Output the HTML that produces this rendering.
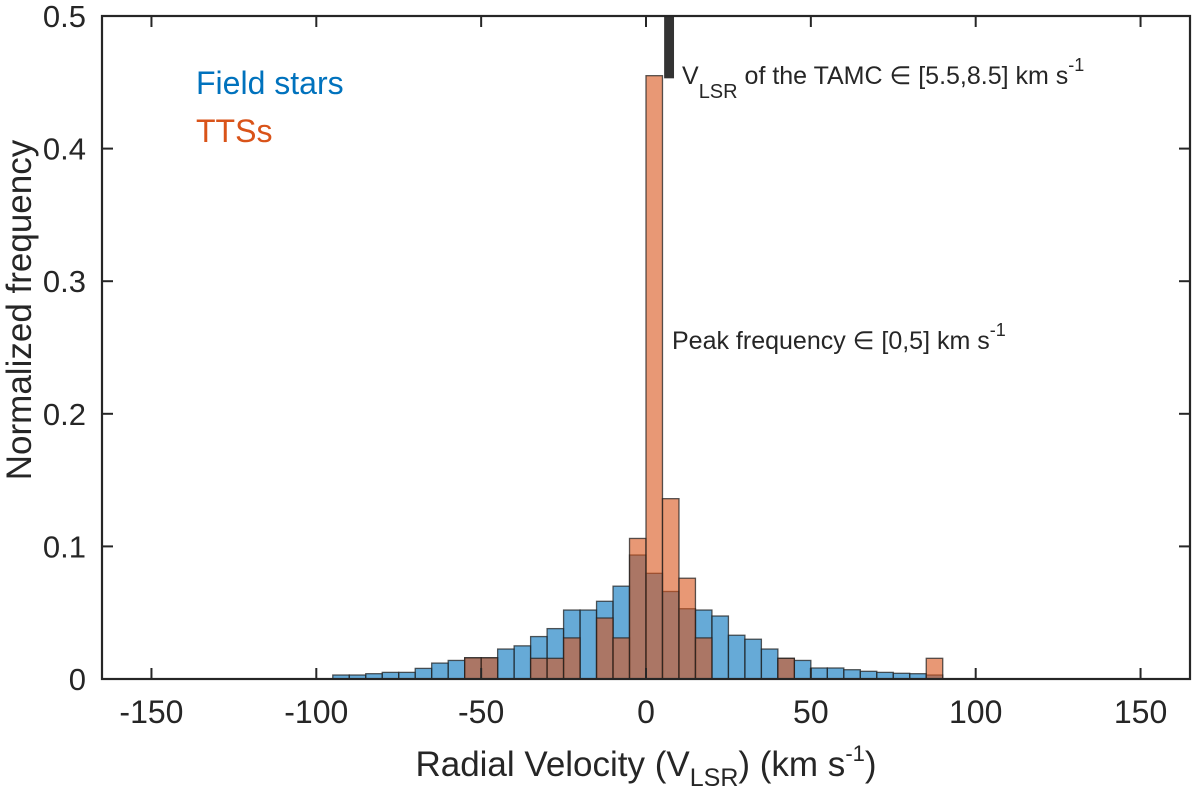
<!DOCTYPE html>
<html><head><meta charset="utf-8"><style>
body{margin:0;background:#fff;}
svg text{font-family:"Liberation Sans",Arial,sans-serif;fill:#262626;}
</style></head><body>
<svg id="chart" width="1200" height="798" xmlns="http://www.w3.org/2000/svg">
<g id="bars"></g>
<g id="axes"></g>
<text transform="translate(31,310) rotate(-90)" text-anchor="middle" font-size="35">Normalized frequency</text>
<text x="646" y="776" text-anchor="middle" font-size="35">Radial Velocity (V<tspan font-size="25" dy="10">LSR</tspan><tspan dy="-10">) (km s</tspan><tspan font-size="22" dy="-15">-1</tspan><tspan dy="15">)</tspan></text>
<text x="196" y="94" font-size="32" style="fill:#0072BD">Field stars</text>
<text x="196" y="142" font-size="32" style="fill:#D95319">TTSs</text>
<text x="682" y="84" font-size="25">V<tspan font-size="20" dy="14">LSR</tspan><tspan dy="-14"> of the TAMC ∈ [5.5,8.5] km s</tspan><tspan font-size="18" dy="-13">-1</tspan></text>
<text x="672" y="349" font-size="25">Peak frequency ∈ [0,5] km s<tspan font-size="18" dy="-13">-1</tspan></text>
</svg>
<script>
const binStarts=[-95,-90,-85,-80,-75,-70,-65,-60,-55,-50,-45,-40,-35,-30,-25,-20,-15,-10,-5,0,5,10,15,20,25,30,35,40,45,50,55,60,65,70,75,80,85];
const fieldStars=[0.003,0.003,0.004,0.005,0.005,0.008,0.012,0.014,0.016,0.016,0.0226,0.025,0.032,0.038,0.052,0.052,0.0586,0.070,0.0935,0.0797,0.066,0.053,0.052,0.0475,0.033,0.030,0.0226,0.0156,0.014,0.0083,0.0083,0.007,0.0058,0.005,0.0043,0.004,0.003];
const ttss=[0,0,0,0,0,0,0,0,0.016,0.016,0,0,0.0156,0.0156,0.031,0,0.046,0.031,0.106,0.455,0.136,0.076,0.031,0,0,0,0,0.0156,0,0,0,0,0,0,0,0,0.0156];
const xTicks=[-150,-100,-50,0,50,100,150];
const yTicks=[0,0.1,0.2,0.3,0.4,0.5];
const yTickLabels=["0","0.1","0.2","0.3","0.4","0.5"];
const binWidth=5;
const vlsrRange=[5.5,8.5];
const L=102,R=1190,T=16,B=679,xmin=-165,xmax=165,ymax=0.5;
const NS='http://www.w3.org/2000/svg';
function X(v){return L+(v-xmin)/(xmax-xmin)*(R-L);}
function Y(v){return B-v/ymax*(B-T);}
function mk(tag,at,parent){const e=document.createElementNS(NS,tag);for(const k in at)e.setAttribute(k,at[k]);parent.appendChild(e);return e;}
const bars=document.getElementById('bars'),axes=document.getElementById('axes');
function series(vals,fill,name){vals.forEach((v,i)=>{if(v<=0)return;const x0=X(binStarts[i]),x1=X(binStarts[i]+binWidth);
const r=mk('rect',{x:x0,y:Y(v),width:x1-x0,height:B-Y(v),fill:fill,'fill-opacity':0.6,stroke:'#222','stroke-opacity':0.75,'stroke-width':1.3},bars);

});}
series(fieldStars,'#0072BD','field-stars');
series(ttss,'#D95319','ttss');
const vb=mk('rect',{x:X(vlsrRange[0]),y:T,width:X(vlsrRange[1])-X(vlsrRange[0]),height:Y(0.453)-T,fill:'#333'},bars);


mk('rect',{x:L,y:T,width:R-L,height:B-T,fill:'none',stroke:'#262626','stroke-width':2.2},axes);
xTicks.forEach(t=>{const x=X(t);mk('line',{x1:x,x2:x,y1:B,y2:B-11,stroke:'#262626','stroke-width':2},axes);mk('line',{x1:x,x2:x,y1:T,y2:T+11,stroke:'#262626','stroke-width':2},axes);
const tx=mk('text',{x:x,y:B+44,'text-anchor':'middle','font-size':32},axes);tx.textContent=String(t);

});
yTicks.forEach((t,i)=>{const y=Y(t);mk('line',{x1:L,x2:L+11,y1:y,y2:y,stroke:'#262626','stroke-width':2},axes);mk('line',{x1:R,x2:R-11,y1:y,y2:y,stroke:'#262626','stroke-width':2},axes);
const tx=mk('text',{x:L-16,y:y+11,'text-anchor':'end','font-size':31},axes);tx.textContent=yTickLabels[i];

});
</script>
</body></html>
